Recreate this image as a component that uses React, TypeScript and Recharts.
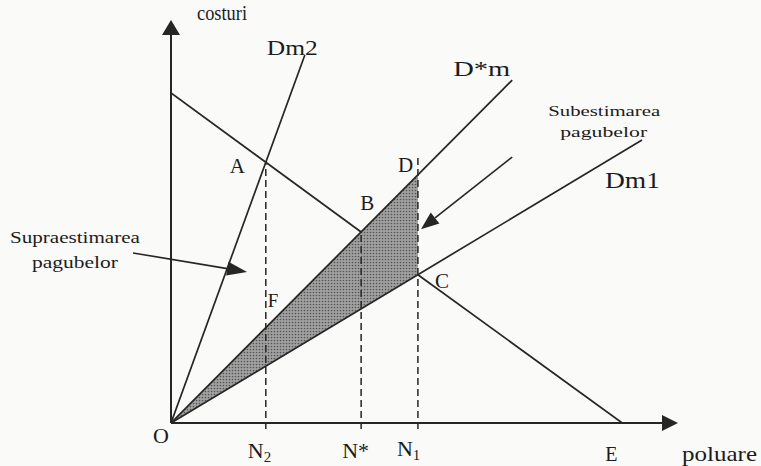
import {
  Area,
  ComposedChart,
  Line,
  ReferenceDot,
  ReferenceLine,
  XAxis,
  YAxis,
} from 'recharts';

// Values. Units: origin at O, both axes 0..10.
const dm2 = [
  { x: 0, y: 0 },
  { x: 2.64, y: 9.13 },
];
const dmStar = [
  { x: 0, y: 0 },
  { x: 6.73, y: 8.51 },
];
const dm1 = [
  { x: 0, y: 0 },
  { x: 9.29, y: 7.02 },
];
// marginal abatement cost: visible from the y-axis to B, then from C to E
// (the stretch between B and C lies under the grey triangle)
const abatementUpper = [
  { x: 0, y: 8.19 },
  { x: 3.75, y: 4.74 },
];
const abatementLower = [
  { x: 4.87, y: 3.68 },
  { x: 8.9, y: 0 },
];
// grey triangle O-D-C between D*m and Dm1
const gap = [
  { x: 0, band: [0, 0] },
  { x: 4.87, band: [3.68, 6.16] },
];
const points = {
  A: { x: 1.87, y: 6.47 },
  B: { x: 3.75, y: 4.74 },
  D: { x: 4.87, y: 6.16 },
  C: { x: 4.87, y: 3.68 },
  E: { x: 8.9, y: 0 },
  O: { x: 0, y: 0 },
};
const nLevels = [
  { x: 1.87, top: 6.47 },
  { x: 3.75, top: 4.74 },
  { x: 4.87, top: 6.65 },
];
const overArrow = [
  { x: -0.75, y: 4.22 },
  { x: 1.5, y: 3.75 },
];
const underArrow = [
  { x: 6.73, y: 6.6 },
  { x: 4.93, y: 4.81 },
];

const INK = '#262626';
const FONT = '"Liberation Serif", "Times New Roman", serif';

interface Tag {
  text: string;
  sub?: string;
  at: { x: number; y: number };
  dx: number;
  dy: number;
  size: number;
  len?: number;
}

// label placement, offsets in px from their anchor
const tags: Tag[] = [
  { text: 'costuri', at: { x: 0, y: 10 }, dx: 26, dy: 0, size: 21, len: 50 },
  { text: 'Dm2', at: dm2[1], dx: -38, dy: 0, size: 22, len: 51 },
  { text: 'D*m', at: dmStar[1], dx: -59, dy: -4, size: 21, len: 57 },
  { text: 'Subestimarea', at: underArrow[0], dx: 36, dy: -41, size: 15, len: 112 },
  { text: 'pagubelor', at: underArrow[0], dx: 48, dy: -20, size: 15, len: 87 },
  { text: 'Dm1', at: dm1[1], dx: -37, dy: 48, size: 23, len: 55 },
  { text: 'Supraestimarea', at: overArrow[0], dx: -123, dy: -10, size: 16, len: 130 },
  { text: 'pagubelor', at: overArrow[0], dx: -101, dy: 15, size: 16, len: 86 },
  { text: 'A', at: points.A, dx: -36, dy: 11, size: 21 },
  { text: 'B', at: points.B, dx: -1, dy: -22, size: 21 },
  { text: 'D', at: points.D, dx: -20, dy: -3, size: 21 },
  { text: 'C', at: points.C, dx: 17, dy: 13, size: 21 },
  { text: 'F', at: { x: nLevels[0].x, y: 0 }, dx: 2, dy: -116, size: 19 },
  { text: 'O', at: points.O, dx: -18, dy: 20, size: 22 },
  { text: 'N', sub: '2', at: { x: nLevels[0].x, y: 0 }, dx: -18, dy: 35, size: 22 },
  { text: 'N*', at: { x: nLevels[1].x, y: 0 }, dx: -19, dy: 35, size: 22 },
  { text: 'N', sub: '1', at: { x: nLevels[2].x, y: 0 }, dx: -21, dy: 33, size: 22 },
  { text: 'E', at: points.E, dx: -17, dy: 38, size: 20 },
  { text: 'poluare', at: { x: 10, y: 0 }, dx: 4, dy: 38, size: 21, len: 75 },
];

function ArrowSeg(props: any) {
  const { x1, y1, x2, y2, head = 16, half = 7, width = 1.6 } = props;
  const a = Math.atan2(y2 - y1, x2 - x1);
  const bx = x2 - head * Math.cos(a);
  const by = y2 - head * Math.sin(a);
  const nx = -Math.sin(a) * half;
  const ny = Math.cos(a) * half;
  return (
    <g>
      <line x1={x1} y1={y1} x2={bx} y2={by} stroke={INK} strokeWidth={width} />
      <polygon
        points={`${x2},${y2} ${bx + nx},${by + ny} ${bx - nx},${by - ny}`}
        fill={INK}
      />
    </g>
  );
}

function TagText({ cx, cy, tag }: { cx: number; cy: number; tag: Tag }) {
  return (
    <text
      x={cx + tag.dx}
      y={cy + tag.dy}
      fontFamily={FONT}
      fontSize={tag.size}
      fill="#1c1c1c"
      textLength={tag.len}
      lengthAdjust={tag.len ? 'spacingAndGlyphs' : undefined}
    >
      {tag.text}
      {tag.sub && (
        <tspan dy={4} fontSize={tag.size * 0.68}>
          {tag.sub}
        </tspan>
      )}
    </text>
  );
}

const lineProps = {
  dataKey: 'y',
  type: 'linear' as const,
  stroke: INK,
  strokeWidth: 1.7,
  dot: false,
  activeDot: false,
  isAnimationActive: false,
};

export default function App() {
  return (
    <div style={{ position: 'absolute', left: 0, top: 0, width: 761, height: 466, background: '#fafaf9' }}>
      <ComposedChart
        width={761}
        height={466}
        margin={{ top: 20, right: 83, bottom: 43, left: 171 }}
      >
        <defs>
          <pattern id="stipple" width="3" height="3" patternUnits="userSpaceOnUse">
            <rect width="3" height="3" fill="#a2a2a2" />
            <circle cx="1.5" cy="1.5" r="0.85" fill="#555" />
          </pattern>
        </defs>
        <XAxis type="number" dataKey="x" domain={[0, 10]} allowDataOverflow hide />
        <YAxis type="number" domain={[0, 10]} allowDataOverflow hide />

        {nLevels.map((n, i) => (
          <ReferenceLine
            key={`n${i}`}
            segment={[
              { x: n.x, y: -0.15 },
              { x: n.x, y: n.top },
            ]}
            ifOverflow="visible"
            stroke={INK}
            strokeWidth={1.5}
            strokeDasharray="7 4"
          />
        ))}

        <Area data={gap} dataKey="band" type="linear" fill="url(#stipple)" fillOpacity={1} stroke="none" isAnimationActive={false} />
        <Line data={abatementUpper} {...lineProps} />
        <Line data={abatementLower} {...lineProps} />
        <Line data={dm2} {...lineProps} />
        <Line data={dmStar} {...lineProps} />
        <Line data={dm1} {...lineProps} />

        {/* axes with arrowheads */}
        <ReferenceLine
          segment={[{ x: 0, y: 0 }, { x: 0, y: 10 }]}
          ifOverflow="visible"
          shape={(p: any) => <ArrowSeg {...p} head={15} half={9} width={2} />}
        />
        <ReferenceLine
          segment={[{ x: 0, y: 0 }, { x: 10, y: 0 }]}
          ifOverflow="visible"
          shape={(p: any) => <ArrowSeg {...p} head={16} half={8} width={2} />}
        />

        <ReferenceLine
          segment={overArrow}
          ifOverflow="visible"
          shape={(p: any) => <ArrowSeg {...p} head={20} half={7} />}
        />
        <ReferenceLine
          segment={underArrow}
          ifOverflow="visible"
          shape={(p: any) => <ArrowSeg {...p} head={18} half={7} />}
        />

        {tags.map((t, i) => (
          <ReferenceDot
            key={`t${i}`}
            x={t.at.x}
            y={t.at.y}
            ifOverflow="visible"
            shape={(p: any) => <TagText cx={p.cx} cy={p.cy} tag={t} />}
          />
        ))}
      </ComposedChart>
    </div>
  );
}
